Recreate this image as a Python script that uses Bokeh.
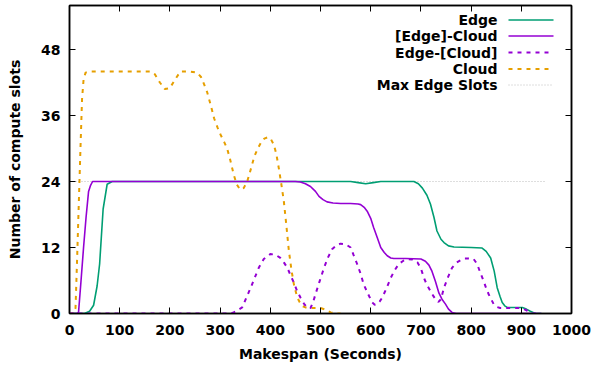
from bokeh.plotting import figure
from bokeh.models import LinearAxis, FixedTicker, Range1d, Label, Arrow, CustomJSTickFormatter
from bokeh.embed import file_html
from bokeh.resources import INLINE

# ---- data ----
edge_x = [0, 30, 40, 48, 55, 60, 67, 75, 85, 200, 400, 560, 575, 590, 605, 620, 650, 686, 695, 703, 712, 719,
          726, 732, 740, 746, 755, 766, 800, 822, 830, 839, 846, 852, 858, 862, 867, 872, 890, 902, 910, 918, 928, 940]
edge_y = [0, 0, 0.4, 1.5, 5, 9, 19, 23.5, 24, 24, 24, 24, 23.8, 23.6, 23.8, 24, 24, 24, 23.6, 22.8, 21.5, 19.9,
          17.5, 15, 13.5, 12.9, 12.3, 12.1, 12, 11.9, 11.3, 10.1, 7.7, 4.7, 3, 2, 1.4, 1.1, 1.1, 1.1, 0.8, 0.4, 0, 0]

ec_x = [0, 15, 18, 23, 28, 33, 38, 42, 46, 100, 300, 450, 460, 470, 480, 490, 497, 505, 513, 525, 540, 560, 575,
        580, 587, 593, 600, 606, 613, 620, 627, 633, 640, 646, 670, 700, 709, 716, 722, 729, 736, 742, 749, 755,
        762, 770, 800, 900, 940]
ec_y = [0, 0, 0.2, 6, 12, 17.5, 22.2, 23.3, 24, 24, 24, 24, 23.9, 23.6, 23.1, 22.2, 21.3, 20.7, 20.3, 20.1, 20, 20,
        19.9, 19.8, 19.3, 18.6, 17.3, 15.6, 13.8, 12, 11.1, 10.5, 10.1, 10, 10, 9.9, 9.5, 8.8, 7.7, 5.8, 3.7, 2.6,
        1.7, 0.8, 0.2, 0, 0, 0, 0]

ce_x = [0, 100, 200, 320, 327, 335, 344, 352, 361, 369, 377, 387, 400, 410, 420, 427, 434, 440, 447, 453, 460,
        467, 473, 480, 485, 490, 498, 507, 515, 523, 532, 540, 550, 560, 566, 573, 580, 586, 595, 603, 608, 613,
        618, 623, 632, 640, 648, 656, 665, 673, 683, 693, 700, 706, 712, 719, 724, 729, 735, 740, 746, 754, 762,
        770, 779, 787, 795, 805, 812, 818, 825, 830, 835, 840, 845, 851, 858, 870, 885, 898, 905, 912, 922, 930]
ce_y = [0, 0, 0, 0, 0.2, 0.6, 1.1, 2.8, 4.7, 6.5, 8.3, 9.9, 10.8, 10.7, 10.1, 9.3, 8.3, 7, 5.6, 4.2, 2.9, 1.8,
        1.1, 1, 2, 3.5, 5.8, 8.3, 10.2, 11.7, 12.4, 12.7, 12.6, 12, 10.6, 9, 7.2, 5.3, 3.5, 2, 1.6, 1.7, 2.2,
        2.9, 4.7, 6.5, 7.9, 9, 9.6, 9.9, 9.8, 9.3, 8.2, 6.5, 5.2, 4.1, 3.3, 2.6, 2.1, 2.6, 4.7, 6.6, 8.3, 9.2,
        9.7, 10, 10, 9.9, 9, 7.5, 5.9, 4.6, 3.5, 2.6, 1.7, 1.2, 1, 1, 1, 1, 0.8, 0.5, 0, 0]

cloud_x = [0, 8, 12, 15, 18.5, 22, 25, 28, 32, 40, 100, 160, 170, 180, 190, 200, 210, 221, 240, 254, 262, 268,
           274, 281, 288, 295, 301, 308, 314, 320, 327, 333, 340, 347, 354, 362, 368, 374, 381, 388, 394, 400,
           407, 412, 417, 422, 427, 432, 437, 442, 447, 452, 457, 463, 470, 480, 490, 500, 510, 520, 530, 540]
cloud_y = [0, 0, 1, 9.5, 20, 30.5, 39, 42.5, 43.8, 44, 44, 44, 43.5, 42, 40.8, 41, 42.5, 44, 44, 43.8, 43, 41.7,
           40.3, 38, 35.5, 33.8, 32.5, 31.2, 30, 28, 25.3, 23.5, 22.5, 22.8, 24, 26.5, 28.5, 29.8, 31, 31.8, 32,
           31.9, 30.7, 29, 26.4, 23.5, 20.4, 16, 11.4, 8, 5.3, 3.5, 2.3, 1.4, 1.1, 1, 1, 1, 0.7, 0.2, 0, 0]

max_edge_x = [0, 950]
max_edge_y = [24, 24]

x_ticks = [0, 100, 200, 300, 400, 500, 600, 700, 800, 900, 1000]
y_ticks = [0, 12, 24, 36, 48]

series_names = ["Edge", "[Edge]-Cloud", "Edge-[Cloud]", "Cloud", "Max Edge Slots"]
colors = ["#009e73", "#9400d3", "#9400d3", "#e69f00", "#bcbcbc"]
dashes = ["solid", "solid", "4 5", "4 5", "1 2"]
widths = [1.6, 1.6, 2, 2, 1]

FONT = "DejaVu Sans"
FS = "14px"

p = figure(width=595, height=368, output_backend="svg", toolbar_location=None,
           x_range=Range1d(0, 1000), y_range=Range1d(0, 56),
           min_border_left=69, min_border_right=24, min_border_top=5, min_border_bottom=55,
           x_axis_label="Makespan (Seconds)", y_axis_label="Number of compute slots")
p.xgrid.visible = False
p.ygrid.visible = False
p.outline_line_color = "black"
p.outline_line_width = 1.5
p.background_fill_color = "white"
p.border_fill_color = "white"

for ax, ticks in ((p.xaxis[0], x_ticks), (p.yaxis[0], y_ticks)):
    ax.ticker = FixedTicker(ticks=ticks)
    ax.major_tick_in = 6
    ax.major_tick_out = 0
    ax.minor_tick_line_color = None
    ax.axis_line_width = 1.5
    ax.major_tick_line_width = 1
    ax.major_label_text_font = FONT
    ax.major_label_text_font_style = "bold"
    ax.major_label_text_font_size = FS
    ax.major_label_text_color = "black"
    ax.axis_label_text_font = FONT
    ax.axis_label_text_font_style = "bold"
    ax.axis_label_text_font_size = FS
    ax.axis_label_text_color = "black"
p.xaxis[0].major_label_standoff = 11
p.xaxis[0].axis_label_standoff = 8
p.yaxis[0].major_label_standoff = 9
p.yaxis[0].axis_label_standoff = 15

# mirrored ticks (no labels)
for loc, ticks in (("above", x_ticks), ("right", y_ticks)):
    a = LinearAxis(ticker=FixedTicker(ticks=ticks), major_tick_in=6, major_tick_out=0,
                   minor_tick_line_color=None, formatter=CustomJSTickFormatter(code="return ''"),
                   major_label_standoff=0, axis_line_width=1.5)
    p.add_layout(a, loc)

series = [(edge_x, edge_y), (ec_x, ec_y), (ce_x, ce_y), (cloud_x, cloud_y), (max_edge_x, max_edge_y)]
order = [4, 0, 3, 2, 1]
for i in order:
    xs, ys = series[i]
    p.line(xs, ys, line_color=colors[i], line_dash=dashes[i], line_width=widths[i])

# legend (gnuplot style: text right-aligned, sample to the right), in screen units
row_y = [293.5, 277.5, 261, 244.5, 228.5]
for i, name in enumerate(series_names):
    p.add_layout(Label(x=428, y=row_y[i], x_units="screen", y_units="screen", text=name,
                       text_align="right", text_baseline="middle", text_font=FONT,
                       text_font_style="bold", text_font_size=FS, text_color="black"))
    p.add_layout(Arrow(start=None, end=None, x_start=439, y_start=row_y[i], x_end=484, y_end=row_y[i],
                       start_units="screen", end_units="screen", line_color=colors[i],
                       line_dash=dashes[i], line_width=widths[i]))

open("out.html", "w").write(file_html(p, INLINE))
